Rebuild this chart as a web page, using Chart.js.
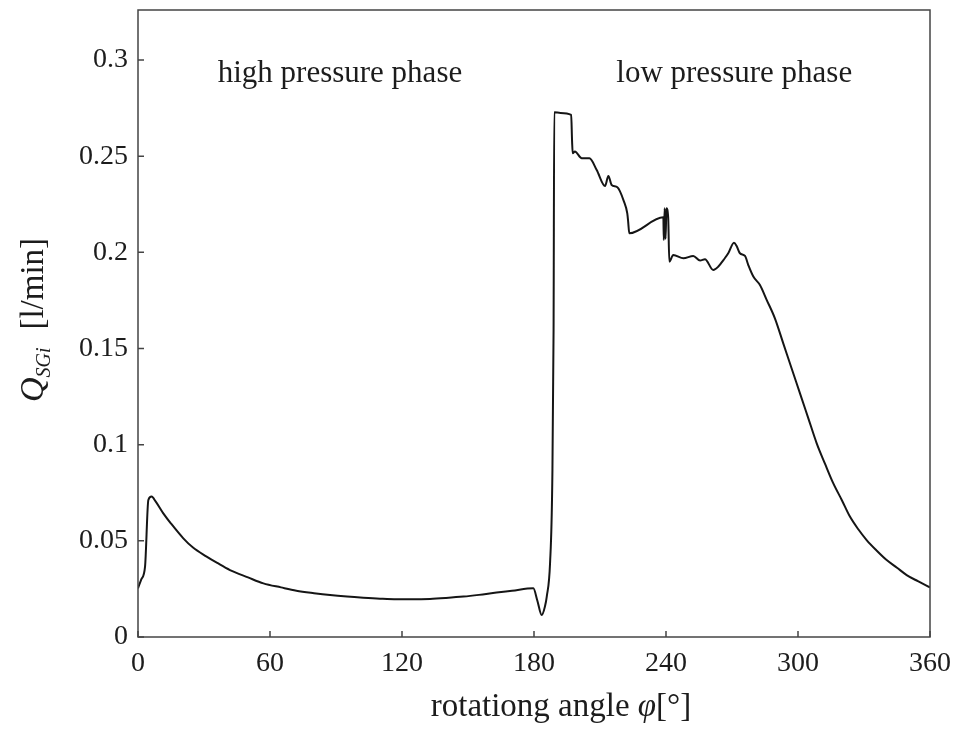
<!DOCTYPE html>
<html>
<head>
<meta charset="utf-8">
<script src="https://cdn.jsdelivr.net/npm/chart.js@4.4.1/dist/chart.umd.min.js"></script>
<style>
  html, body { margin: 0; padding: 0; background: #fff; }
</style>
</head>
<body>
<canvas id="myChart" width="956" height="731"></canvas>
<script>
const angles = [0, 1.5, 3.2, 4.7, 6.2, 8, 11.5, 15, 20.6, 25, 31.2, 36, 41.8, 50, 57, 65, 72, 80, 87.3, 95,
  102.4, 110, 117.6, 125, 132.7, 140, 147.9, 155, 163, 170, 179.7, 181.5, 183.5, 185, 185.8, 187.3, 188.3, 188.9,
  189.2, 192, 196.9, 197.3, 197.6, 198.6, 201.7, 205.2, 208.5, 212.3, 213.8, 215.3, 217.9, 220.9, 222.4, 222.8,
  223.3, 238.8, 239.0, 239.4, 239.8, 240.2, 241.0, 241.5, 243.3, 247.9, 252.4, 255.5, 257.7, 261.5, 263.8, 266.1,
  268.3, 270.9, 272.1, 273.6, 275.9, 277.4, 279.7, 282.7, 285.8, 289.5, 293.3, 297, 300.9, 304.7, 308.5, 312.3,
  316, 320, 323.6, 327.4, 331.2, 335.7, 340.3, 345, 349.4, 354.5, 360];
const flow = [0.0253, 0.030, 0.0366, 0.0712, 0.073, 0.0705, 0.0643, 0.059, 0.0513, 0.0465, 0.0418, 0.0385, 0.0348,
  0.031, 0.0279, 0.0258, 0.0241, 0.0228, 0.0218, 0.021, 0.0204, 0.0199, 0.0196, 0.0196, 0.0198, 0.0203, 0.021,
  0.0219, 0.0231, 0.024, 0.0253, 0.019, 0.0114, 0.016, 0.021, 0.0385, 0.08, 0.16, 0.2729, 0.2725, 0.2715, 0.258,
  0.2515, 0.2524, 0.2489, 0.2489, 0.2428, 0.2345, 0.2397, 0.235, 0.2338, 0.2264, 0.2203, 0.216, 0.2099, 0.2182,
  0.2064, 0.2229, 0.207, 0.2229, 0.218, 0.1952, 0.1986, 0.1969, 0.1981, 0.1957, 0.1964, 0.1908, 0.1926, 0.196,
  0.1995, 0.205, 0.2033, 0.1995, 0.1981, 0.1934, 0.1874, 0.183, 0.1752, 0.1657, 0.1527, 0.14, 0.1267, 0.1137,
  0.1007, 0.09, 0.08, 0.071, 0.0626, 0.056, 0.0504, 0.045, 0.04, 0.036, 0.0322, 0.029, 0.0258];

const xTicks = [0, 60, 120, 180, 240, 300, 360];
const yTicks = [0, 0.05, 0.1, 0.15, 0.2, 0.25, 0.3];
const phaseLabels = ["high pressure phase", "low pressure phase"];

const SERIF = "'Liberation Serif', 'Times New Roman', serif";
const INK = "#1c1c1c";

// frame, inward ticks, axis titles and phase labels
const decor = {
  id: "decor",
  afterDraw(chart) {
    const ctx = chart.ctx;
    const a = chart.chartArea;
    const sx = chart.scales.x, sy = chart.scales.y;
    ctx.save();
    ctx.strokeStyle = "#444";
    ctx.lineWidth = 1.5;
    ctx.strokeRect(a.left, a.top, a.right - a.left, a.bottom - a.top);
    ctx.beginPath();
    xTicks.forEach((v) => {
      const px = sx.getPixelForValue(v);
      ctx.moveTo(px, a.bottom);
      ctx.lineTo(px, a.bottom - 6);
    });
    yTicks.forEach((v) => {
      const py = sy.getPixelForValue(v);
      ctx.moveTo(a.left, py);
      ctx.lineTo(a.left + 6, py);
    });
    ctx.stroke();

    ctx.fillStyle = INK;
    ctx.textBaseline = "alphabetic";

    // phase labels
    ctx.font = "31px " + SERIF;
    ctx.textAlign = "center";
    ctx.fillText(phaseLabels[0], sx.getPixelForValue(91.8), 82);
    ctx.fillText(phaseLabels[1], sx.getPixelForValue(271), 82);

    // x title: rotationg angle φ[°]
    ctx.textAlign = "left";
    const p1 = "rotationg angle ", p2 = "φ", p3 = "[°]";
    ctx.font = "33px " + SERIF;
    const w1 = ctx.measureText(p1).width, w3 = ctx.measureText(p3).width;
    ctx.font = "italic 33px " + SERIF;
    const w2 = ctx.measureText(p2).width;
    let x0 = 561 - (w1 + w2 + w3) / 2;
    ctx.font = "33px " + SERIF;
    ctx.fillText(p1, x0, 716);
    ctx.font = "italic 33px " + SERIF;
    ctx.fillText(p2, x0 + w1, 716);
    ctx.font = "33px " + SERIF;
    ctx.fillText(p3, x0 + w1 + w2, 716);

    // y title: Q_SGi [l/min]
    ctx.translate(43, 320);
    ctx.rotate(-Math.PI / 2);
    ctx.font = "italic 34px " + SERIF;
    const wq = ctx.measureText("Q").width;
    ctx.font = "italic 20px " + SERIF;
    const ws = ctx.measureText("SGi").width;
    ctx.font = "33px " + SERIF;
    const wu = ctx.measureText("[l/min]").width;
    const gap = 18;
    let y0 = -(wq + ws + gap + wu) / 2;
    ctx.font = "italic 34px " + SERIF;
    ctx.fillText("Q", y0, 0);
    ctx.font = "italic 20px " + SERIF;
    ctx.fillText("SGi", y0 + wq, 7);
    ctx.font = "33px " + SERIF;
    ctx.fillText("[l/min]", y0 + wq + ws + gap, 0);
    ctx.restore();
  },
};

new Chart(document.getElementById("myChart"), {
  type: "scatter",
  data: {
    datasets: [{
      data: angles.map((a, i) => ({ x: a, y: flow[i] })),
      showLine: true,
      borderColor: "#151515",
      borderWidth: 2,
      pointRadius: 0,
      cubicInterpolationMode: "monotone",
    }],
  },
  options: {
    responsive: false,
    devicePixelRatio: 1,
    animation: false,
    layout: { padding: { left: 0, top: 10, right: 26, bottom: 0 } },
    plugins: { legend: { display: false }, tooltip: { enabled: false } },
    scales: {
      x: {
        type: "linear",
        min: 0,
        max: 360,
        afterBuildTicks: (s) => { s.ticks = xTicks.map((v) => ({ value: v })); },
        afterFit: (s) => { s.height = 94; s.paddingLeft = 0; s.paddingRight = 0; },
        grid: { display: false, drawTicks: false },
        border: { display: false },
        ticks: { color: INK, padding: 10, maxRotation: 0, font: { family: SERIF, size: 28 } },
      },
      y: {
        type: "linear",
        min: 0,
        max: 0.326,
        afterBuildTicks: (s) => { s.ticks = yTicks.map((v) => ({ value: v })); },
        afterFit: (s) => { s.width = 138; s.paddingTop = 0; s.paddingBottom = 0; },
        grid: { display: false, drawTicks: false },
        border: { display: false },
        ticks: { color: INK, padding: 10, font: { family: SERIF, size: 28 }, callback: (v) => String(v) },
      },
    },
  },
  plugins: [decor],
});
</script>
</body>
</html>
